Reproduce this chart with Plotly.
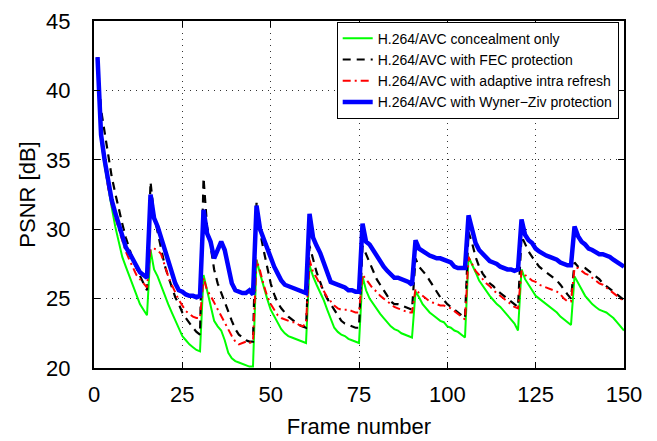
import plotly.graph_objects as go

frames = list(range(1, 151))

concealment_only = [
    42.4, 36.4, 34.6, 33.0, 31.6, 30.2, 29.0, 28.0, 27.3, 26.6, 26.0, 25.2, 24.6, 24.2, 23.8,
    28.5, 27.1, 26.6, 25.9, 25.2, 24.6, 24.0, 23.4, 22.8, 22.3, 22.0, 21.7, 21.5, 21.3, 21.2,
    26.7, 25.6, 24.5, 23.4, 23.0, 22.7, 22.0, 21.1, 20.7, 20.5, 20.4, 20.3, 20.2, 20.1, 20.1,
    27.8, 26.8, 25.8, 25.0, 24.2, 23.7, 23.2, 22.8, 22.5, 22.3, 22.2, 22.1, 22.0, 21.9, 21.8,
    27.4, 26.6, 26.0, 25.5, 24.9, 24.2, 23.5, 22.9, 22.6, 22.4, 22.3, 22.1, 22.0, 21.9, 21.8,
    26.6, 25.6, 25.0, 24.6, 24.2, 23.9, 23.6, 23.3, 23.0, 22.8, 22.7, 22.5, 22.4, 22.3, 22.2,
    25.5, 25.1, 24.6, 24.3, 24.0, 23.8, 23.6, 23.4, 23.3, 23.0, 22.9, 22.7, 22.6, 22.4, 22.2,
    28.0, 27.5, 26.9, 26.3, 25.9, 25.5, 25.2, 24.9, 24.6, 24.4, 24.1, 23.8, 23.5, 23.2, 22.7,
    27.1, 26.4, 26.0, 25.6, 25.2, 25.0, 24.8, 24.6, 24.4, 24.2, 24.0, 23.7, 23.5, 23.3, 23.1,
    26.6, 26.1, 25.6, 25.2, 24.9, 24.6, 24.4, 24.2, 24.1, 24.0, 23.8, 23.6, 23.3, 23.0, 22.7,
]

fec_protection = [
    42.4, 38.6, 37.0, 35.4, 33.8, 32.6, 31.4, 30.4, 29.4, 28.6, 27.8, 27.2, 26.6, 26.1, 25.6,
    33.4, 31.0, 29.8, 28.6, 27.4, 26.6, 25.8, 25.1, 24.6, 24.0, 23.6, 23.2, 22.9, 22.6, 22.4,
    33.7, 30.2, 28.8, 27.1, 26.1, 25.4, 24.7, 24.0, 23.4, 22.8, 22.4, 22.2, 22.0, 21.9, 21.9,
    31.9, 29.8, 28.5, 27.3, 26.1, 25.3, 24.7, 24.3, 24.0, 23.7, 23.5, 23.3, 23.1, 23.0, 22.9,
    28.8, 27.8, 26.9, 26.2, 25.5, 25.0, 24.6, 24.2, 23.7, 23.4, 23.2, 23.1, 23.0, 22.9, 22.9,
    28.8, 28.2, 27.6, 26.9, 26.4, 26.0, 25.6, 25.2, 24.8, 24.6, 24.6, 24.5, 24.4, 24.3, 24.2,
    27.9, 27.3, 27.0, 26.7, 26.3, 25.9, 25.5, 25.1, 24.9, 24.6, 24.4, 24.2, 24.0, 23.8, 23.6,
    29.8, 29.0, 28.0, 27.3, 26.8, 26.4, 26.1, 25.9, 25.6, 25.4, 25.2, 25.0, 24.8, 24.6, 24.4,
    29.5, 28.9, 28.4, 28.0, 27.6, 27.3, 27.1, 26.9, 26.7, 26.5, 26.3, 26.0, 25.6, 25.3, 25.0,
    27.6, 27.3, 27.3, 27.2, 27.0, 26.8, 26.6, 26.4, 26.1, 25.9, 25.7, 25.5, 25.3, 25.1, 24.9,
]

adaptive_intra = [
    42.4, 36.5, 34.8, 33.0, 31.8, 30.8, 30.0, 29.2, 28.4, 27.8, 27.2, 26.7, 26.4, 26.1, 25.8,
    28.6, 28.6, 28.5, 28.2, 27.4, 26.6, 26.0, 25.4, 24.9, 24.5, 24.1, 23.9, 23.7, 23.6, 23.6,
    26.5, 25.6, 25.2, 24.7, 24.2, 23.7, 23.2, 22.8, 22.3, 21.9, 21.7, 21.8, 21.9, 21.8, 21.9,
    27.8, 27.0, 26.0, 25.2, 24.6, 24.2, 23.8, 23.6, 23.5, 23.4, 23.3, 23.3, 23.1, 23.0, 23.2,
    27.8, 26.9, 26.5, 26.0, 25.6, 25.1, 24.8, 24.5, 24.3, 24.2, 24.2, 24.2, 24.1, 24.0, 24.0,
    26.7, 26.4, 26.0, 25.7, 25.5, 25.2, 25.0, 24.8, 24.6, 24.4, 24.3, 24.2, 24.1, 24.0, 24.0,
    25.7, 25.4, 25.2, 25.0, 24.8, 24.7, 24.6, 24.5, 24.5, 24.4, 24.3, 24.1, 23.9, 23.7, 23.5,
    28.0, 27.5, 27.0, 26.7, 26.4, 26.1, 25.9, 25.6, 25.4, 25.2, 25.0, 24.8, 24.6, 24.4, 24.3,
    27.0, 26.7, 26.5, 26.3, 26.2, 26.0, 25.9, 25.8, 25.7, 25.6, 25.5, 25.3, 25.0, 24.8, 24.8,
    27.2, 27.2, 27.0, 26.8, 26.7, 26.5, 26.3, 26.1, 26.0, 25.8, 25.6, 25.4, 25.2, 25.0, 24.8,
]

wyner_ziv = [
    42.4, 36.8, 35.0, 33.3, 32.1, 31.2, 30.3, 29.6, 28.7, 28.3, 27.8, 27.3, 26.9, 26.7, 26.5,
    32.5, 30.8, 30.2, 29.4, 28.5, 27.7, 26.8, 26.1, 25.6, 25.5, 25.3, 25.2, 25.2, 25.1, 25.2,
    31.4, 29.7, 29.1, 27.9, 28.5, 29.1, 28.5, 27.1, 26.1, 25.6, 25.5, 25.4, 25.4, 25.6, 25.3,
    31.7, 30.0, 29.3, 28.7, 28.0, 27.3, 26.8, 26.3, 26.0, 25.9, 25.8, 25.7, 25.6, 25.5, 25.4,
    31.1, 29.4, 28.8, 28.3, 27.6, 26.8, 26.2, 26.1, 26.0, 25.9, 25.8, 25.6, 25.6, 25.5, 25.5,
    30.4, 29.1, 28.9, 28.5, 28.0, 27.6, 27.3, 27.0, 26.7, 26.5, 26.5, 26.4, 26.3, 26.2, 26.0,
    29.2, 28.6, 28.4, 28.2, 28.1, 28.0, 27.9, 27.9, 27.8, 27.7, 27.6, 27.3, 27.2, 27.2, 27.2,
    31.0, 30.0, 29.0, 28.5, 28.2, 27.9, 27.7, 27.6, 27.5, 27.3, 27.2, 27.1, 27.1, 27.0, 27.1,
    30.7, 29.6, 29.2, 29.0, 28.6, 28.4, 28.2, 28.1, 28.0, 27.9, 27.8, 27.6, 27.5, 27.4, 27.4,
    30.2, 29.5, 29.1, 28.9, 28.6, 28.5, 28.3, 28.2, 28.2, 28.1, 28.0, 27.8, 27.6, 27.4, 27.3,
]

series_names = [
    "H.264/AVC concealment only",
    "H.264/AVC with FEC protection",
    "H.264/AVC with adaptive intra refresh",
    "H.264/AVC with Wyner\u2212Ziv protection",
]

x_ticks = [0, 25, 50, 75, 100, 125, 150]
y_ticks = [20, 25, 30, 35, 40, 45]

FONT = "Liberation Sans, Arial, Helvetica, sans-serif"

fig = go.Figure()
fig.add_trace(go.Scatter(x=frames, y=concealment_only, mode="lines", name=series_names[0],
                         line=dict(color="#00ff00", width=2)))
fig.add_trace(go.Scatter(x=frames, y=fec_protection, mode="lines", name=series_names[1],
                         line=dict(color="#000000", width=2.2, dash="8px,6px")))
fig.add_trace(go.Scatter(x=frames, y=adaptive_intra, mode="lines", name=series_names[2],
                         line=dict(color="#ff0000", width=2, dash="8px,4px,2px,4px")))
fig.add_trace(go.Scatter(x=frames, y=wyner_ziv, mode="lines", name=series_names[3],
                         line=dict(color="#0000ff", width=4.5)))

axis_common = dict(
    showline=True, linecolor="black", linewidth=2, mirror="ticks",
    ticks="inside", ticklen=6, tickwidth=1, tickcolor="black",
    showgrid=True, gridcolor="#333333", gridwidth=1, griddash="1px,5px",
    zeroline=False, automargin=False,
    tickfont=dict(family=FONT, size=22, color="black"),
)

fig.update_xaxes(range=[0, 150], tickvals=x_ticks,
                 title=dict(text="Frame number", font=dict(family=FONT, size=22, color="black"), standoff=12),
                 ticklabelstandoff=6, **axis_common)
fig.update_yaxes(range=[20, 45], tickvals=y_ticks,
                 title=dict(text="PSNR [dB]", font=dict(family=FONT, size=22, color="black"), standoff=4),
                 ticklabelstandoff=17, **axis_common)

fig.update_layout(
    width=657, height=441,
    margin=dict(l=94, r=33, t=21, b=73),
    plot_bgcolor="white", paper_bgcolor="white",
    font=dict(family=FONT, color="black"),
    legend=dict(x=0.99, y=0.998, xanchor="right", yanchor="top",
                bgcolor="white", bordercolor="black", borderwidth=1,
                font=dict(family=FONT, size=14, color="black"),
                itemwidth=30, tracegroupgap=0),
)

fig.write_html("out.html")
